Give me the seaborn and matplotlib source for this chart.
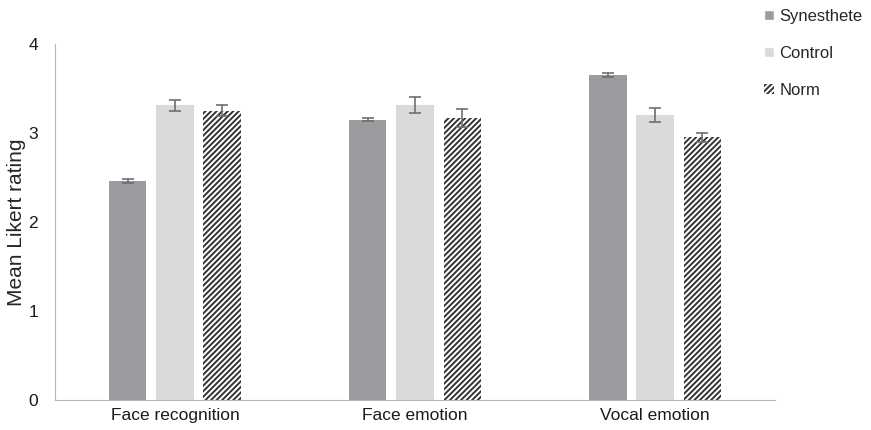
import pandas as pd
import matplotlib.pyplot as plt
import seaborn as sns
from matplotlib.patches import Patch

tasks = ["Face recognition", "Face emotion", "Vocal emotion"]
groups = ["Synesthete", "Control", "Norm"]
means = {
    "Synesthete": [2.46, 3.15, 3.65],
    "Control": [3.31, 3.31, 3.20],
    "Norm": [3.25, 3.17, 2.95],
}
errors = {
    "Synesthete": [0.02, 0.02, 0.02],
    "Control": [0.06, 0.09, 0.08],
    "Norm": [0.06, 0.10, 0.05],
}
colors = {"Synesthete": "#9b9c9f", "Control": "#d9dadc", "Norm": "#ffffff"}

rows = []
for g in groups:
    for t, m in zip(tasks, means[g]):
        rows.append({"Task": t, "Group": g, "Mean": m})
df = pd.DataFrame(rows)

sns.set_style("white")
plt.rcParams["font.family"] = ["Liberation Sans", "DejaVu Sans"]
plt.rcParams["hatch.linewidth"] = 1.4

fig = plt.figure(figsize=(8.71, 4.30), dpi=100)
ax = fig.add_axes([0.063, 0.07, 0.827, 0.828])

sns.barplot(data=df, x="Task", y="Mean", hue="Group", order=tasks,
            hue_order=groups, palette=colors, width=0.59, gap=0.21,
            errorbar=None, legend=False, ax=ax, linewidth=0)

# hatch the Norm bars and add error bars
for container, g in zip(ax.containers, groups):
    xs = []
    for patch in container:
        xs.append(patch.get_x() + patch.get_width() / 2)
        if g == "Norm":
            patch.set_hatch("//////")
            patch.set_edgecolor("#333333")
            patch.set_linewidth(0)
    ax.errorbar(xs, means[g], yerr=errors[g], fmt="none", ecolor="#6e6e6e",
                elinewidth=1.2, capsize=4, capthick=1.2)

ax.set_ylim(0, 4)
ax.set_yticks([0, 1, 2, 3, 4])
ax.set_xlim(-0.5, 2.5)
ax.set_xlabel("")
ax.set_ylabel("Mean Likert rating", fontsize=15, labelpad=2)
ax.tick_params(axis="both", length=0, labelsize=12.5, colors="#1a1a1a")
ax.tick_params(axis="x", pad=6)
ax.tick_params(axis="y", pad=12)
for side in ["top", "right"]:
    ax.spines[side].set_visible(False)
ax.spines["left"].set_color("#b5b5b5")
ax.spines["bottom"].set_color("#b5b5b5")

handles = [
    Patch(facecolor=colors["Synesthete"], label="Synesthete"),
    Patch(facecolor=colors["Control"], label="Control"),
    Patch(facecolor="white", edgecolor="#333333", linewidth=0,
          hatch="//////", label="Norm"),
]
fig.legend(handles=handles, loc="upper left", bbox_to_anchor=(0.866, 1.003),
           frameon=False, fontsize=12, handlelength=0.6, handleheight=0.6,
           handletextpad=0.3, labelspacing=1.32, borderaxespad=0.2)

fig.savefig("out.png", dpi=100)
